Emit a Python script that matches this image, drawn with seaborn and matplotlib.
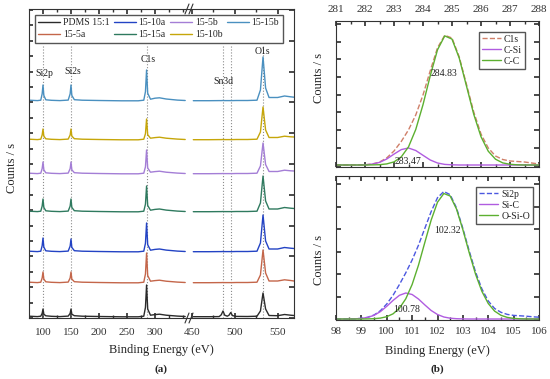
import numpy as np
import matplotlib
matplotlib.use("Agg")
import matplotlib.pyplot as plt
import seaborn as sns
from matplotlib.lines import Line2D

# ================================
# Data: survey spectra (a)
# ================================
samples = ['PDMS 15:1', '15-5a', '15-10a', '15-15a', '15-5b', '15-10b', '15-15b']
colors = ['#2b2b2b', '#c4664a', '#2343c4', '#2f7a5f', '#a47ed6', '#c6a60a', '#4a90c0']
offsets = [1, 35, 66, 106, 144, 178, 217]

be_low = [75, 90, 96, 98.5, 100, 101.5, 105, 115, 130, 145, 148.5, 150, 151.5, 156,
          170, 200, 240, 270, 280, 283, 285, 287, 292, 300, 308, 320, 340, 354]
be_high = [452, 470, 482, 484.5, 486.5, 488.5, 491.5, 493.5, 495.5, 497.5, 502,
           515, 526, 530, 533, 536, 540, 550, 558, 565, 569]

pdms_low = [0.8, 0.4, 0.8, 3.6, 8, 2.8, 1.2, 0.7, 0.4, 0.9, 3.6, 8, 2.8, 1.3,
            0.8, 0.5, 0.2, 0.2, 0.8, 9.6, 32, 8, 1.8, 2.4, 2.8, 1.8, 0.9, 0.5]
pdms_high = [0.3, 0.3, 0.4, 2.2, 6, 1.8, 0.8, 1.8, 4.5, 1.4, 0.6, 0.5, 0.8, 6, 24,
             8, 1.5, 1.3, 2.5, 1.8, 1.5]
s5a_low = [0.8, 0.4, 0.8, 5, 11, 3.9, 1.2, 0.7, 0.4, 0.9, 5, 11, 3.9, 1.3,
           0.8, 0.5, 0.2, 0.2, 0.8, 9, 30, 7.5, 1.8, 2.4, 2.8, 1.8, 0.9, 0.5]
s5a_high = [0.3, 0.3, 0.4, 0.4, 0.5, 0.4, 0.4, 0.4, 0.4, 0.4, 0.5, 0.5, 0.8, 8, 33,
            10, 2.0, 2.0, 3.2, 2.5, 2.0]
s10a_low = [0.8, 0.4, 0.8, 6.3, 14, 4.9, 1.2, 0.7, 0.4, 0.9, 5.9, 13, 4.6, 1.3,
            0.8, 0.5, 0.2, 0.2, 0.8, 8.7, 29, 7.3, 1.8, 2.6, 3.0, 1.9, 0.9, 0.5]
s10a_high = [0.3, 0.3, 0.4, 0.4, 0.5, 0.4, 0.4, 0.4, 0.4, 0.4, 0.5, 0.5, 0.8, 9, 37,
             11, 3.0, 3.0, 4.5, 3.8, 3.5]
s15a_low = [0.8, 0.4, 0.8, 5.9, 13, 4.6, 1.2, 0.7, 0.4, 0.9, 5.9, 13, 4.6, 1.3,
            0.8, 0.5, 0.2, 0.2, 0.8, 7.8, 26, 6.5, 1.8, 2.6, 3.0, 1.9, 0.9, 0.5]
s15a_high = [0.3, 0.3, 0.4, 0.4, 0.5, 0.4, 0.4, 0.4, 0.4, 0.4, 0.5, 0.5, 0.8, 9, 36,
             11, 3.0, 3.0, 4.5, 3.8, 3.5]
s5b_low = [0.8, 0.4, 0.8, 5.4, 12, 4.2, 1.2, 0.7, 0.4, 0.9, 5.4, 12, 4.2, 1.3,
           0.8, 0.5, 0.2, 0.2, 0.8, 7.2, 24, 6, 1.8, 2.4, 2.8, 1.8, 0.9, 0.5]
s5b_high = [0.3, 0.3, 0.4, 0.4, 0.5, 0.4, 0.4, 0.4, 0.4, 0.4, 0.5, 0.5, 0.8, 8, 31,
            9.5, 2.5, 2.5, 3.8, 3.2, 3.0]
s10b_low = [0.8, 0.4, 0.8, 5, 11, 3.9, 1.2, 0.7, 0.4, 0.9, 5, 11, 3.9, 1.3,
            0.8, 0.5, 0.2, 0.2, 0.8, 6.3, 21, 5.3, 1.8, 2.4, 2.8, 1.8, 0.9, 0.5]
s10b_high = [0.3, 0.3, 0.4, 0.4, 0.5, 0.4, 0.4, 0.4, 0.4, 0.4, 0.5, 0.5, 0.8, 8, 33,
             10, 2.5, 2.5, 3.8, 3.2, 3.0]
s15b_low = [0.8, 0.4, 0.8, 7.2, 16, 5.6, 1.2, 0.7, 0.4, 0.9, 7.2, 16, 5.6, 1.3,
            0.8, 0.5, 0.2, 0.2, 0.8, 9.3, 31, 7.8, 1.8, 2.8, 3.2, 2.0, 0.9, 0.5]
s15b_high = [0.3, 0.3, 0.4, 0.4, 0.5, 0.4, 0.4, 0.4, 0.4, 0.4, 0.5, 0.5, 0.8, 11, 44,
             13, 3.5, 3.5, 5.0, 4.2, 3.8]

lows = [pdms_low, s5a_low, s10a_low, s15a_low, s5b_low, s10b_low, s15b_low]
highs = [pdms_high, s5a_high, s10a_high, s15a_high, s5b_high, s10b_high, s15b_high]

peak_lines_low = [100, 150, 285]
peak_lines_high = [486.5, 495.5, 533]

# ================================
# Data: high resolution fits (b)
# ================================
be_c1s = np.arange(281.0, 288.01, 0.25)
c1s_env = [2.0, 2.0, 2.0, 2.1, 2.2, 3.0, 4.9, 9.1, 16.0, 25.5, 37.1, 52.0, 72.0, 96.3,
           119.2, 131.7, 129.0, 110.0, 82.5, 55.0, 33.0, 19.0, 11.0, 7.5, 6.0, 5.5,
           5.0, 4.0, 3.0]
c_si = [2.0, 2.0, 2.0, 2.0, 2.2, 2.9, 4.6, 8.0, 12.9, 17.4, 19.0, 16.5, 11.7, 7.0,
        4.0, 2.6, 2.2, 2.0, 2.0, 2.0, 2.0, 2.0, 2.0, 2.0, 2.0, 2.0, 2.0, 2.0, 2.0]
c_c = [2.0, 2.0, 2.0, 2.0, 2.0, 2.1, 2.3, 3.1, 5.1, 10.1, 20.1, 37.5, 62.3, 91.3,
       117.2, 131.1, 127.9, 108.9, 80.9, 52.7, 30.3, 15.8, 7.8, 4.1, 2.7, 2.2, 2.0,
       2.0, 2.0]

be_si2p = np.arange(98.0, 106.01, 0.25)
si2p_env = [1.0, 1.0, 1.05, 1.2, 1.6, 2.7, 5.0, 9.3, 16.0, 24.8, 35.5, 47.2, 60.0,
            74.8, 91.6, 108.4, 122.3, 128.5, 125.3, 112.0, 91.5, 69.0, 48.0, 31.0,
            19.0, 11.5, 7.7, 5.6, 4.6, 4.2, 3.8, 3.2, 2.8]
si_c = [1.0, 1.0, 1.05, 1.2, 1.6, 2.6, 4.7, 8.4, 13.7, 19.6, 24.7, 27.0, 25.5, 21.0,
        15.1, 9.5, 5.5, 3.0, 1.8, 1.3, 1.1, 1.0, 1.0, 1.0, 1.0, 1.0, 1.0, 1.0, 1.0,
        1.0, 1.0, 1.0, 1.0]
o_si_o = [1.0, 1.0, 1.0, 1.0, 1.0, 1.1, 1.3, 1.9, 3.3, 6.2, 11.8, 21.2, 35.5, 54.8,
          77.5, 99.9, 117.8, 126.5, 124.0, 110.9, 90.3, 67.3, 45.8, 28.6, 16.5, 8.9,
          4.7, 2.6, 1.6, 1.2, 1.0, 1.0, 1.0]

env_c1s_color = '#cf7f68'
env_si2p_color = '#4b57e0'
violet = '#b05ce0'
green = '#5cb030'

# ================================
# Style
# ================================
sns.set_theme(style='ticks')
plt.rcParams['font.family'] = ['Liberation Serif', 'DejaVu Serif']
plt.rcParams['axes.edgecolor'] = '#333333'
plt.rcParams['axes.linewidth'] = 0.8
plt.rcParams['xtick.color'] = '#333333'
plt.rcParams['ytick.color'] = '#333333'

W, H = 550, 379
fig = plt.figure(figsize=(5.5, 3.79), dpi=100)


def box(x0, y0, x1, y1):
    return [x0 / W, 1 - y1 / H, (x1 - x0) / W, (y1 - y0) / H]


# ================================
# Panel (a): broken axis survey
# ================================
ax1 = fig.add_axes(box(29, 9, 188, 318))
ax2 = fig.add_axes(box(189, 9, 294, 318))

for i in range(len(samples)):
    sns.lineplot(x=be_low, y=np.array(lows[i]) + offsets[i], ax=ax1,
                 color=colors[i], linewidth=1.0, sort=False)
    sns.lineplot(x=be_high, y=np.array(highs[i]) + offsets[i], ax=ax2,
                 color=colors[i], linewidth=1.0, sort=False)

for x in peak_lines_low:
    ax1.axvline(x, ymax=0.88, color='#8c8c8c', ls=':', lw=0.8, zorder=1)
for x in peak_lines_high:
    ax2.axvline(x, ymax=0.88, color='#8c8c8c', ls=':', lw=0.8, zorder=1)

ax1.set_xlim(75, 359)
ax2.set_xlim(447, 569)
for ax in (ax1, ax2):
    ax.set_ylim(0, 309)
    ax.set_xlabel('')
    ax.set_ylabel('')

ax1.set_xticks([100, 150, 200, 250, 300])
ax1.set_xticks([125, 175, 225, 275, 325, 350], minor=True)
ax2.set_xticks([450, 500, 550])
ax2.set_xticks([475, 525], minor=True)
ax1.set_yticks(np.arange(0, 309, 15.4))
ax2.set_yticks(np.arange(0, 309, 30.8))
for ax in (ax1, ax2):
    ax.tick_params(axis='x', which='both', direction='in', top=True, bottom=True,
                   labelsize=8, pad=7)
    ax.tick_params(axis='x', which='major', length=3.5)
    ax.tick_params(axis='x', which='minor', length=2)
ax1.tick_params(axis='y', direction='in', left=True, right=False, labelleft=False, length=3)
ax2.tick_params(axis='y', direction='in', left=False, right=True, labelleft=False,
                labelright=False, length=3.5)
ax1.spines['right'].set_visible(False)
ax2.spines['left'].set_visible(False)

# break marks
for yb in (9, 318):
    for dx in (0, 4):
        fig.add_artist(Line2D([(185 + dx) / W, (189 + dx) / W],
                              [1 - (yb + 5) / H, 1 - (yb - 5) / H],
                              color='#333333', lw=0.8))

lab_kw = dict(ha='center', va='center', fontsize=7, color='#222222')
ax1.text(102, 245, 'Si2p', **lab_kw)
ax1.text(153, 246, 'Si2s', **lab_kw)
ax1.text(287, 258, 'C1s', **lab_kw)
ax2.text(487, 236, 'Sn3d', **lab_kw)
ax2.text(532, 266, 'O1s', **lab_kw)

handles = [Line2D([], [], color=c, lw=1.0) for c in colors]
fig.legend(handles, samples, ncol=4, loc='upper left',
           bbox_to_anchor=(35 / W, 1 - 15 / H), fontsize=7, frameon=True,
           fancybox=False, edgecolor='#555555', framealpha=1, handlelength=2.2,
           handletextpad=0.3, columnspacing=0.5, labelspacing=0.3, borderpad=0.35,
           borderaxespad=0)

fig.text(12 / W, 1 - 168 / H, 'Counts / s', rotation=90, ha='center', va='center',
         fontsize=9)
fig.text(161 / W, 1 - 350 / H, 'Binding Energy (eV)', ha='center', va='center',
         fontsize=9)
fig.text(161 / W, 1 - 369 / H, '(a)', ha='center', va='center', fontsize=8,
         fontweight='bold')

# ================================
# Panel (b): C1s and Si2p fits
# ================================
ax3 = fig.add_axes(box(336, 21, 539, 167))
ax4 = fig.add_axes(box(336, 176, 539, 320))

sns.lineplot(x=be_c1s, y=c1s_env, ax=ax3, color=env_c1s_color, lw=1.0,
             linestyle='--', label='C1s')
sns.lineplot(x=be_c1s, y=c_si, ax=ax3, color=violet, lw=1.0, label='C-Si')
sns.lineplot(x=be_c1s, y=c_c, ax=ax3, color=green, lw=1.0, label='C-C')

sns.lineplot(x=be_si2p, y=si2p_env, ax=ax4, color=env_si2p_color, lw=1.0,
             linestyle='--', label='Si2p')
sns.lineplot(x=be_si2p, y=si_c, ax=ax4, color=violet, lw=1.0, label='Si-C')
sns.lineplot(x=be_si2p, y=o_si_o, ax=ax4, color=green, lw=1.0, label='O-Si-O')

ax3.set_xlim(281, 288)
ax3.set_ylim(0, 146)
ax4.set_xlim(98, 106)
ax4.set_ylim(0, 144)
ax3.set_xticks(np.arange(281, 289, 1))
ax3.set_xticks(np.arange(281.5, 288, 1), minor=True)
ax4.set_xticks(np.arange(98, 107, 1))
ax4.set_xticks(np.arange(98.5, 106, 1), minor=True)
ax3.set_yticks(np.arange(1.5, 146, 17.7))
ax4.set_yticks(np.arange(0.5, 144, 22.6))

for ax in (ax3, ax4):
    ax.set_xlabel('')
    ax.set_ylabel('')
    ax.tick_params(axis='both', which='both', direction='in', top=True, bottom=True,
                   left=True, right=True, labelleft=False, labelsize=8, pad=5)
    ax.tick_params(axis='both', which='major', length=3.5)
    ax.tick_params(axis='both', which='minor', length=2)
ax3.tick_params(axis='x', labeltop=True, labelbottom=False)

leg_kw = dict(fontsize=7, frameon=True, fancybox=False, edgecolor='#555555',
              framealpha=1, handlelength=2.0, handletextpad=0.3, labelspacing=0.2,
              borderpad=0.3, borderaxespad=0)
ax3.legend(loc='upper right', bbox_to_anchor=(0.931, 0.925), **leg_kw)
ax4.legend(loc='upper right', bbox_to_anchor=(0.970, 0.924), **leg_kw)

ann_kw = dict(ha='center', va='center', fontsize=7, color='#222222')
ax3.text(284.72, 94, '284.83', **ann_kw)
ax3.text(283.48, 5, '283.47', **ann_kw)
ax4.text(102.41, 90, '102.32', **ann_kw)
ax4.text(100.80, 10, '100.78', **ann_kw)

fig.text(319 / W, 1 - 78 / H, 'Counts / s', rotation=90, ha='center', va='center',
         fontsize=9)
fig.text(319 / W, 1 - 260 / H, 'Counts / s', rotation=90, ha='center', va='center',
         fontsize=9)
fig.text(437 / W, 1 - 351 / H, 'Binding Energy (eV)', ha='center', va='center',
         fontsize=9)
fig.text(437 / W, 1 - 369 / H, '(b)', ha='center', va='center', fontsize=8,
         fontweight='bold')

fig.savefig('out.png', dpi=100)
plt.close(fig)
